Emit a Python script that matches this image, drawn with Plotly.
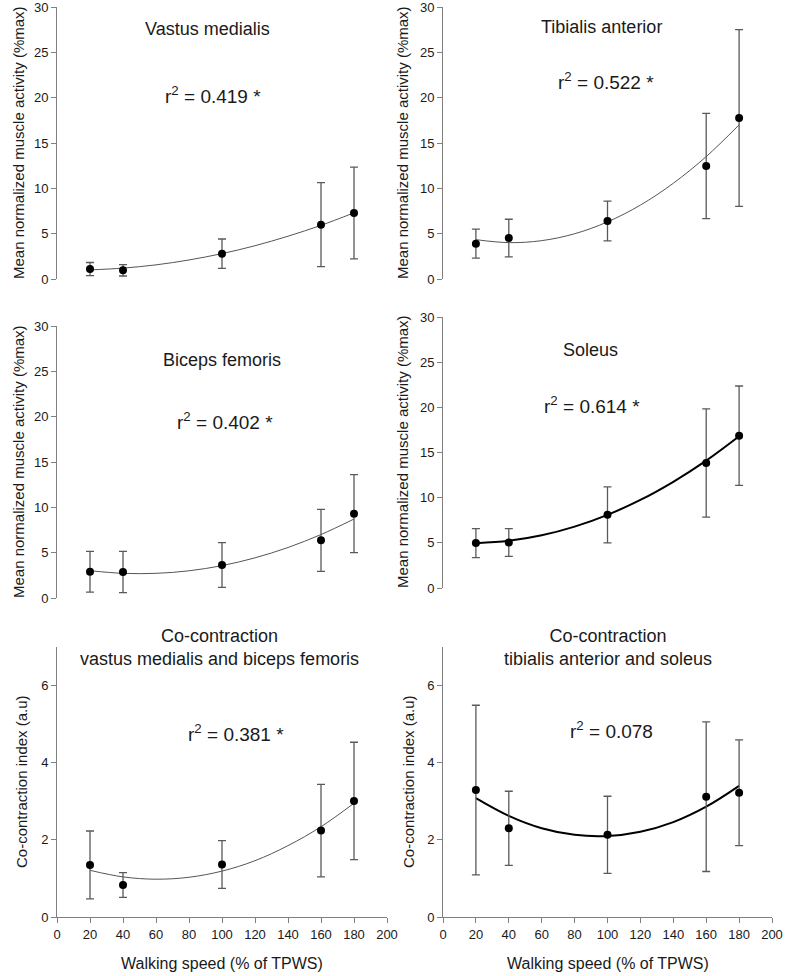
import plotly.graph_objects as go

# ---------------- data ----------------
speeds = [20, 40, 100, 160, 180]

vm_mean = [1.10, 0.96, 2.79, 5.99, 7.28]
vm_sd = [0.72, 0.63, 1.62, 4.63, 5.05]

ta_mean = [3.90, 4.52, 6.40, 12.46, 17.76]
ta_sd = [1.60, 2.07, 2.19, 5.80, 9.75]

bf_mean = [2.90, 2.87, 3.64, 6.36, 9.30]
bf_sd = [2.25, 2.28, 2.46, 3.42, 4.30]

sol_mean = [4.97, 5.04, 8.10, 13.84, 16.86]
sol_sd = [1.60, 1.53, 3.10, 6.00, 5.50]

cc1_mean = [1.35, 0.83, 1.36, 2.24, 3.01]
cc1_sd = [0.88, 0.32, 0.62, 1.20, 1.52]

cc2_mean = [3.29, 2.30, 2.13, 3.12, 3.22]
cc2_sd = [2.20, 0.96, 1.00, 1.94, 1.37]

# quadratic trend lines
fit_x = [20, 40, 60, 80, 100, 120, 140, 160, 180]
vm_fit = [1.00, 1.20, 1.56, 2.10, 2.80, 3.67, 4.72, 5.92, 7.30]
ta_fit = [4.34, 4.01, 4.23, 4.99, 6.30, 8.15, 10.56, 13.50, 17.00]
bf_fit = [3.01, 2.72, 2.72, 3.00, 3.57, 4.43, 5.57, 7.00, 8.71]
sol_fit = [4.95, 5.22, 5.83, 6.79, 8.10, 9.75, 11.76, 14.10, 16.80]
cc1_fit = [1.21, 1.04, 0.98, 1.03, 1.19, 1.46, 1.85, 2.34, 2.95]
cc2_fit = [3.08, 2.62, 2.30, 2.13, 2.10, 2.21, 2.46, 2.86, 3.40]

titles = ["Vastus medialis", "Tibialis anterior", "Biceps femoris", "Soleus",
          "Co-contraction<br>vastus medialis and biceps femoris",
          "Co-contraction<br>tibialis anterior and soleus"]
r2_labels = ["r<sup>2</sup> = 0.419 *", "r<sup>2</sup> = 0.522 *", "r<sup>2</sup> = 0.402 *",
             "r<sup>2</sup> = 0.614 *", "r<sup>2</sup> = 0.381 *", "r<sup>2</sup> = 0.078"]
y_title_emg = "Mean normalized muscle activity (%max)"
y_title_cc = "Co-contraction index (a.u)"
x_title = "Walking speed (% of TPWS)"
x_ticks = [0, 20, 40, 60, 80, 100, 120, 140, 160, 180, 200]

# ---------------- layout helpers ----------------
W, H = 787, 976
FONT = "Arial, 'Liberation Sans', sans-serif"
TXT = "#1a1a1a"
AX = "#808080"


def px(x):
    return x / W


def py(y):
    return 1 - y / H


# pixel boxes: (left, right, top, bottom)
boxes = [
    (57, 387, 7, 279),
    (443, 772, 7, 279),
    (57, 387, 326, 598),
    (443, 772, 317, 588),
    (57, 387, 647, 917),
    (443, 772, 647, 917),
]

panels = [
    (vm_mean, vm_sd, vm_fit, 1.0, "#555555"),
    (ta_mean, ta_sd, ta_fit, 1.0, "#555555"),
    (bf_mean, bf_sd, bf_fit, 1.0, "#555555"),
    (sol_mean, sol_sd, sol_fit, 2.0, "#000000"),
    (cc1_mean, cc1_sd, cc1_fit, 1.0, "#555555"),
    (cc2_mean, cc2_sd, cc2_fit, 2.0, "#000000"),
]

fig = go.Figure()
layout = {}
for i, (box, (mean, sd, fit, lw, lc)) in enumerate(zip(boxes, panels)):
    n = "" if i == 0 else str(i + 1)
    xa, ya = "x" + n, "y" + n
    fig.add_trace(go.Scatter(x=fit_x, y=fit, mode="lines", xaxis=xa, yaxis=ya,
                             line=dict(color=lc, width=lw, shape="spline"),
                             showlegend=False, hoverinfo="skip"))
    fig.add_trace(go.Scatter(x=speeds, y=mean, mode="markers", xaxis=xa, yaxis=ya,
                             marker=dict(color="black", size=8),
                             error_y=dict(type="data", array=sd, visible=True,
                                          color="#5a5a5a", thickness=1.3, width=4),
                             showlegend=False))
    l, r, t, b = box
    bottom_row = i >= 4
    layout["xaxis" + n] = dict(
        domain=[px(l), px(r)], range=[0, 200], anchor=ya, automargin=False,
        visible=bottom_row, showline=bottom_row, showticklabels=bottom_row,
        linecolor=AX, linewidth=1,
        ticks="outside" if bottom_row else "", ticklen=5, tickcolor=AX,
        tickvals=x_ticks, showgrid=False, zeroline=False,
        ticklabeloverflow="allow",
        tickfont=dict(family=FONT, size=13, color=TXT),
    )
    if bottom_row:
        yrange, yticks = [0, 7], [0, 2, 4, 6]
    else:
        yrange, yticks = [0, 30], [0, 5, 10, 15, 20, 25, 30]
    layout["yaxis" + n] = dict(
        domain=[py(b), py(t)], range=yrange, anchor=xa, automargin=False,
        showline=True, linecolor=AX, linewidth=1,
        ticks="outside", ticklen=5, tickcolor=AX, tickvals=yticks,
        showgrid=False, zeroline=False, ticklabeloverflow="allow",
        tickfont=dict(family=FONT, size=13, color=TXT),
    )

annotations = []


def ann(text, x, y, size, angle=0):
    annotations.append(dict(text=text, x=px(x), y=py(y), xref="paper", yref="paper",
                            showarrow=False, textangle=angle, xanchor="center",
                            yanchor="middle",
                            font=dict(family=FONT, size=size, color=TXT)))


# panel titles
ann(titles[0], 207, 29, 18)
ann(titles[1], 601, 27, 18)
ann(titles[2], 222, 360, 18)
ann(titles[3], 590, 350, 18)
ann(titles[4], 219, 647, 18)
ann(titles[5], 608, 647, 18)
# r^2 labels
ann(r2_labels[0], 213, 95, 19)
ann(r2_labels[1], 606, 81, 19)
ann(r2_labels[2], 225, 421, 19)
ann(r2_labels[3], 592, 405, 19)
ann(r2_labels[4], 236, 733, 19)
ann(r2_labels[5], 611, 730, 19)
# y titles
ann(y_title_emg, 18, 143, 15, -90)
ann(y_title_emg, 402, 143, 15, -90)
ann(y_title_emg, 18, 462, 15, -90)
ann(y_title_emg, 402, 452, 15, -90)
ann(y_title_cc, 21, 782, 15, -90)
ann(y_title_cc, 408, 782, 15, -90)
# x titles
ann(x_title, 222, 963, 16)
ann(x_title, 608, 963, 16)

fig.update_layout(
    width=W, height=H, autosize=False,
    margin=dict(l=0, r=0, t=0, b=0, pad=0),
    paper_bgcolor="white", plot_bgcolor="white",
    annotations=annotations,
    **layout,
)

# remove the browser's default 8px page margin so the figure fills the window
fig.write_html(
    "out.html",
    config={"displayModeBar": False},
    post_script="document.body.style.margin='0px';document.body.style.overflow='hidden';",
)
